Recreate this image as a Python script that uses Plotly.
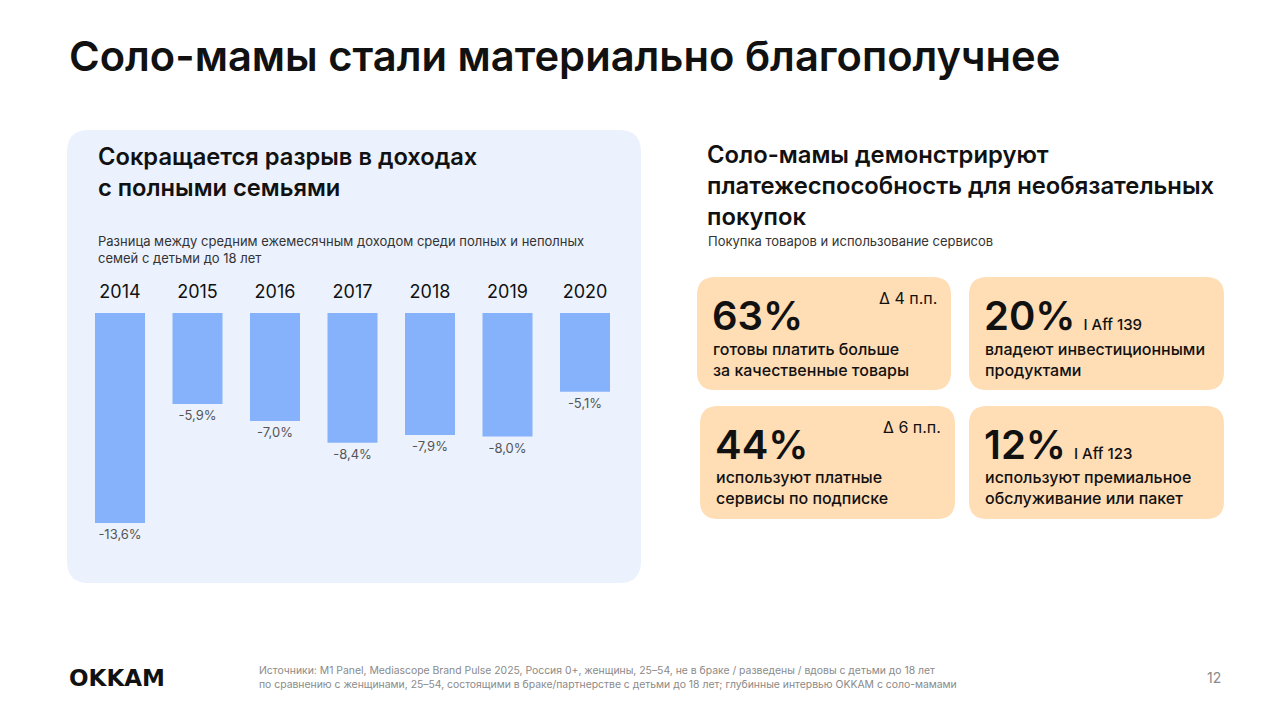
import plotly.graph_objects as go

W, H = 1280, 718

years = ["2014", "2015", "2016", "2017", "2018", "2019", "2020"]
gap = [-13.6, -5.9, -7.0, -8.4, -7.9, -8.0, -5.1]
gap_labels = [f"{v:.1f}%".replace(".", ",") for v in gap]

card_values = ["63%", "20%", "44%", "12%"]
card_notes = ["Δ 4 п.п.", "I Aff 139", "Δ 6 п.п.", "I Aff 123"]
card_texts = [
    "готовы платить больше<br>за качественные товары",
    "владеют инвестиционными<br>продуктами",
    "используют платные<br>сервисы по подписке",
    "используют премиальное<br>обслуживание или пакет",
]

FONT = "Inter"
DARK = "#111111"


def px(x):
    return x / W


def py(y):
    return 1 - y / H


def rrect(x0, y0, x1, y1, r, color):
    # rounded rectangle in pixel coords -> paper path
    pts = (
        f"M {px(x0 + r)} {py(y0)} L {px(x1 - r)} {py(y0)} "
        f"Q {px(x1)} {py(y0)} {px(x1)} {py(y0 + r)} "
        f"L {px(x1)} {py(y1 - r)} Q {px(x1)} {py(y1)} {px(x1 - r)} {py(y1)} "
        f"L {px(x0 + r)} {py(y1)} Q {px(x0)} {py(y1)} {px(x0)} {py(y1 - r)} "
        f"L {px(x0)} {py(y0 + r)} Q {px(x0)} {py(y0)} {px(x0 + r)} {py(y0)} Z"
    )
    return dict(type="path", xref="paper", yref="paper", path=pts,
                fillcolor=color, line=dict(width=0), layer="below")


def txt(x, y, s, size, color=DARK, weight=400, xanchor="left", yanchor="middle",
        family=FONT):
    return dict(x=px(x), y=py(y), xref="paper", yref="paper", text=s,
                showarrow=False, xanchor=xanchor, yanchor=yanchor, align="left",
                font=dict(family=family, size=size, color=color, weight=weight))


fig = go.Figure()
fig.add_trace(go.Bar(
    x=years, y=gap, text=gap_labels, textposition="outside",
    textfont=dict(family=FONT, size=13, color="#555555"),
    marker=dict(color="#86B2FB", line=dict(width=0)),
    cliponaxis=False, hoverinfo="skip",
))

shapes = [rrect(67, 130, 641, 583, 22, "#EBF1FD")]
cards = [(697, 277, 951, 390), (969, 277, 1224, 390),
         (700, 406, 955, 519), (969, 406, 1224, 519)]
annotations = []
for i, (x0, y0, x1, y1) in enumerate(cards):
    shapes.append(rrect(x0, y0, x1, y1, 18, "#FFDDB5"))
    if card_notes[i].startswith("Δ"):
        value = card_values[i]
        annotations.append(txt(x1 - 12, y0 + 21, card_notes[i], 16, xanchor="right"))
    else:
        value = (card_values[i] + "<span style='font-size:15px;font-weight:500'>"
                 "  " + card_notes[i] + "</span>")
    annotations.append(txt(x0 + 13, y0 + 38, value, 40, weight=600))
    annotations.append(txt(x0 + 14, y0 + 82, card_texts[i], 16, weight=500))

annotations += [
    txt(67, 56, "Соло-мамы стали материально благополучнее", 41.7, weight=600),
    txt(96, 172, "Сокращается разрыв в доходах<br>с полными семьями", 23.7, weight=600),
    txt(96, 249, "Разница между средним ежемесячным доходом среди полных и неполных<br>семей с детьми до 18 лет", 13, color="#333333"),
    txt(705, 185, "Соло-мамы демонстрируют<br>платежеспособность для необязательных<br>покупок", 23.8, weight=600),
    txt(706, 241, "Покупка товаров и использование сервисов", 13, color="#333333"),
    txt(67, 678, "OKKAM", 23, weight=700, family="DejaVu Sans"),
    txt(257, 677, "Источники: M1 Panel, Mediascope Brand Pulse 2025, Россия 0+, женщины, 25–54, не в браке / разведены / вдовы с детьми до 18 лет<br>по сравнению с женщинами, 25–54, состоящими в браке/партнерстве с детьми до 18 лет; глубинные интервью OKKAM с соло-мамами", 10.4, color="#8A8A8A"),
    txt(1223, 677, "12", 14, color="#8A8A8A", xanchor="right"),
]

fig.update_layout(
    width=W, height=H, margin=dict(l=0, r=0, t=0, b=0),
    paper_bgcolor="white", plot_bgcolor="rgba(0,0,0,0)",
    showlegend=False, bargap=0.355,
    shapes=shapes, annotations=annotations,
    font=dict(family=FONT),
    xaxis=dict(domain=[81.25 / W, 623.75 / W], side="top", showgrid=False,
               zeroline=False, showline=False, ticks="outside", ticklen=7,
               tickcolor="rgba(0,0,0,0)",
               tickfont=dict(family=FONT, size=18, color=DARK)),
    yaxis=dict(domain=[py(540), py(313)], range=[-14.7, 0], visible=False),
)

# the page body has a default 8px margin; drop it so the figure fills the window
fig.write_html("out.html", config={"displayModeBar": False},
               post_script="document.body.style.margin='0';")
